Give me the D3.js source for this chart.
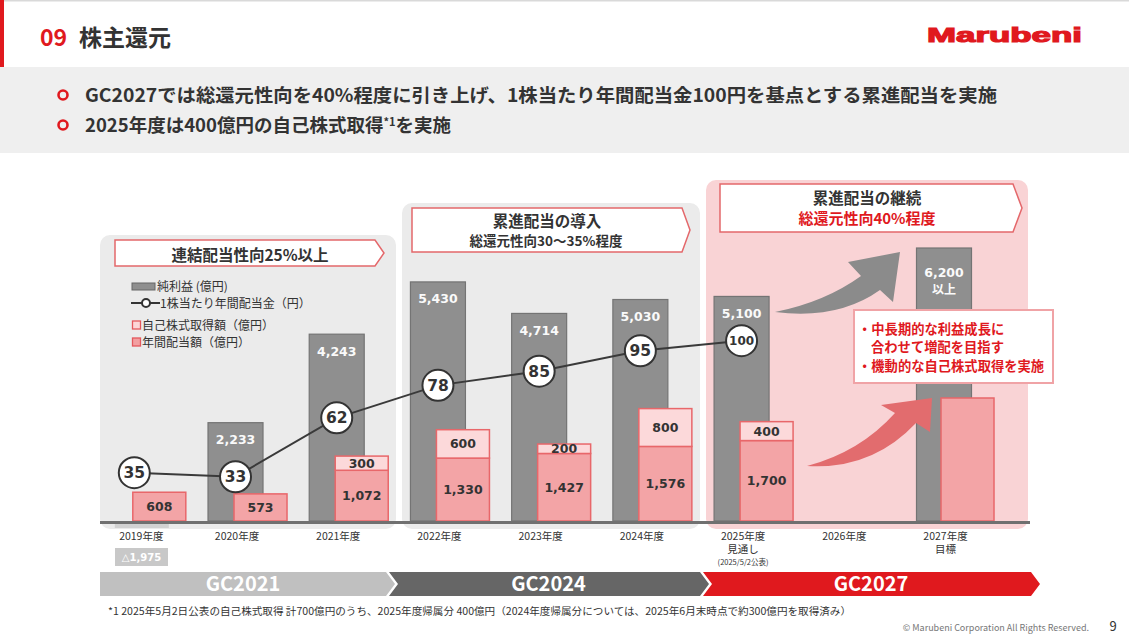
<!DOCTYPE html>
<html><head><meta charset="utf-8">
<script src="https://cdn.jsdelivr.net/npm/d3@7"></script>
<style>body{margin:0;background:#fff}svg{display:block}</style>
</head><body><svg id="c" width="1129" height="638"></svg>
<script>
const categories = ['2019年度','2020年度','2021年度','2022年度','2023年度','2024年度','2025年度','2026年度','2027年度'];
const subLabels = ['','','','','','','見通し','','目標'];
const subNotes = ['','','','','','','(2025/5/2公表)','',''];
const netIncome = [null,2233,4243,5430,4714,5030,5100,null,6200];
const netIncomeSuffix = ['','','','','','','','','以上'];
const netIncome2019Label = '△1,975';
const annualDividend = [608,573,1072,1330,1427,1576,1700,null,null];
const shareBuyback = [null,null,300,600,200,800,400,null,null];
const totalReturnTarget = [null,null,null,null,null,null,null,null,2600];
const dps = [35,33,62,78,85,95,100,null,null];
const phases = ['GC2021','GC2024','GC2027'];
const legendLabels = ['純利益 (億円)','1株当たり年間配当金（円）','自己株式取得額（億円）','年間配当額（億円）'];
const bullets = ['GC2027では総還元性向を40%程度に引き上げ、1株当たり年間配当金100円を基点とする累進配当を実施','2025年度は400億円の自己株式取得'];
const footnote = '*1 2025年5月2日公表の自己株式取得 計700億円のうち、2025年度帰属分 400億円（2024年度帰属分については、2025年6月末時点で約300億円を取得済み）';

const JP = "'Noto Sans CJK JP','Noto Sans',sans-serif";
const NUM = "'DejaVu Sans',Verdana,sans-serif";
const RED = '#e0191e', DARK = '#333333';
const svg = d3.select('#c');
const fmt = d3.format(',');

const base = 521;
const x = d3.scalePoint().domain(categories).range([134.3, 944]);
const yNI = d3.scaleLinear().domain([0, 6200]).range([base, 248]);
const yPay = d3.scaleLinear().domain([0, 2600]).range([base, 398]);
const yDps = d3.scaleLinear().domain([0, 100]).range([543.7, 340.7]);

// ---------- header ----------
svg.append('rect').attr('x',0).attr('y',0).attr('width',1129).attr('height',1.5).attr('fill','#d9d9d9');
svg.append('rect').attr('x',0).attr('y',0).attr('width',4).attr('height',67).attr('fill',RED);
svg.append('text').attr('x',40).attr('y',46).attr('font-family',JP).attr('font-weight',700).attr('font-size',23).attr('fill',RED).text('09');
svg.append('text').attr('x',79).attr('y',46).attr('font-family',JP).attr('font-weight',700).attr('font-size',23).attr('fill',DARK).text('株主還元');
svg.append('text').attr('x',927).attr('y',42).attr('font-family',"'Liberation Sans',Arial,sans-serif").attr('font-weight',900)
  .attr('font-size',21).attr('fill',RED).attr('textLength',155).attr('lengthAdjust','spacingAndGlyphs')
  .attr('stroke',RED).attr('stroke-width',1.2).text('Marubeni');

svg.append('rect').attr('x',0).attr('y',67).attr('width',1129).attr('height',86).attr('fill','#efefef');
[95,125].forEach((cy,i)=>{
  svg.append('circle').attr('cx',63).attr('cy',cy).attr('r',4.5).attr('fill','none').attr('stroke',RED).attr('stroke-width',2.6);
});
svg.append('text').attr('x',85).attr('y',101.5).attr('font-family',JP).attr('font-weight',700).attr('font-size',18.5)
  .attr('fill',DARK).attr('textLength',912).attr('lengthAdjust','spacingAndGlyphs').text(bullets[0]);
const b2 = svg.append('text').attr('x',85).attr('y',131.5).attr('font-family',JP).attr('font-weight',700).attr('font-size',18.5).attr('fill',DARK);
b2.append('tspan').text(bullets[1]);
b2.append('tspan').attr('font-size',11).attr('dy',-6).text('*1');
b2.append('tspan').attr('dy',6).text('を実施');

// ---------- phase panels ----------
svg.append('rect').attr('x',100).attr('y',235).attr('width',296).attr('height',base-235+8).attr('rx',10).attr('fill','#ebebeb');
svg.append('rect').attr('x',402).attr('y',203).attr('width',298).attr('height',base-203+8).attr('rx',10).attr('fill','#ebebeb');
svg.append('rect').attr('x',706).attr('y',180).attr('width',322).attr('height',base-180+8).attr('rx',10).attr('fill','#f9d3d5');

function arrowBox(x0,y0,x1,y1,tip){
  const ym=(y0+y1)/2;
  svg.append('path').attr('d',`M${x0},${y0}H${x1}L${tip},${ym}L${x1},${y1}H${x0}Z`)
    .attr('fill','#fff').attr('stroke','#e4686b').attr('stroke-width',1.5);
}
arrowBox(115,240,375,266,384);
arrowBox(412,208,682,252,690);
arrowBox(720,184,1013,232,1022);
svg.append('text').attr('x',250).attr('y',260.5).attr('text-anchor','middle').attr('font-family',JP).attr('font-weight',700).attr('font-size',15.5).attr('fill',DARK).text('連結配当性向25%以上');
svg.append('text').attr('x',547).attr('y',226.5).attr('text-anchor','middle').attr('font-family',JP).attr('font-weight',700).attr('font-size',15.5).attr('fill',DARK).text('累進配当の導入');
svg.append('text').attr('x',546).attr('y',246).attr('text-anchor','middle').attr('font-family',JP).attr('font-weight',700).attr('font-size',13.5).attr('fill',DARK).text('総還元性向30～35%程度');
svg.append('text').attr('x',867).attr('y',203.5).attr('text-anchor','middle').attr('font-family',JP).attr('font-weight',700).attr('font-size',15.5).attr('fill',DARK).text('累進配当の継続');
svg.append('text').attr('x',867).attr('y',223.5).attr('text-anchor','middle').attr('font-family',JP).attr('font-weight',700).attr('font-size',15).attr('fill',RED).text('総還元性向40%程度');

// ---------- legend ----------
const lg = svg.append('g').attr('font-family',JP).attr('font-size',12).attr('fill',DARK);
lg.append('rect').attr('x',132).attr('y',283).attr('width',23).attr('height',7).attr('fill','#8f8f8f').attr('stroke','#666').attr('stroke-width',1);
lg.append('text').attr('x',157).attr('y',291).text(legendLabels[0]);
lg.append('line').attr('x1',131).attr('x2',160).attr('y1',303).attr('y2',303).attr('stroke',DARK).attr('stroke-width',2);
lg.append('circle').attr('cx',146).attr('cy',303).attr('r',4).attr('fill','#fff').attr('stroke',DARK).attr('stroke-width',2);
lg.append('text').attr('x',160).attr('y',307.5).text(legendLabels[1]);
lg.append('rect').attr('x',132.5).attr('y',321).attr('width',8).attr('height',8).attr('fill','#fcd6d7').attr('stroke','#e4585c').attr('stroke-width',1.3);
lg.append('text').attr('x',142).attr('y',329.5).text(legendLabels[2]);
lg.append('rect').attr('x',132.5).attr('y',338).attr('width',8).attr('height',8).attr('fill','#f29fa1').attr('stroke','#e4585c').attr('stroke-width',1.3);
lg.append('text').attr('x',142).attr('y',346.5).text(legendLabels[3]);

// ---------- net income bars ----------
const niData = categories.map((c,i)=>({c, v:netIncome[i], s:netIncomeSuffix[i]})).filter(d=>d.v!=null);
svg.append('g').selectAll('rect').data(niData).join('rect')
  .attr('x',d=>x(d.c)-27.5).attr('y',d=>yNI(d.v)).attr('width',55).attr('height',d=>base-yNI(d.v))
  .attr('fill','#8f8f8f').attr('stroke','#747474').attr('stroke-width',1.2);
svg.append('g').selectAll('text').data(niData).join('text')
  .attr('x',d=>x(d.c)).attr('y',d=>yNI(d.v)+(d.s?29:21.5)).attr('text-anchor','middle')
  .attr('font-family',NUM).attr('font-weight',700).attr('font-size',12.5).attr('fill','#fafafa').text(d=>fmt(d.v));
svg.append('g').selectAll('text').data(niData.filter(d=>d.s)).join('text')
  .attr('x',d=>x(d.c)).attr('y',d=>yNI(d.v)+45.5).attr('text-anchor','middle')
  .attr('font-family',JP).attr('font-weight',700).attr('font-size',12).attr('fill','#fafafa').text(d=>d.s);

// 2019 negative net income marker
svg.append('rect').attr('x',x(categories[0])-19.5).attr('y',base+3).attr('width',54).attr('height',4).attr('fill','#d2d2d2');

// ---------- payout bars ----------
const PSTROKE = '#e8676a';
const payData = categories.map((c,i)=>({c, d:annualDividend[i], b:shareBuyback[i], t:totalReturnTarget[i]}));
const pg = svg.append('g');
pg.selectAll('rect.div').data(payData.filter(d=>d.d!=null)).join('rect').attr('class','div')
  .attr('x',d=>x(d.c)-1.5).attr('y',d=>yPay(d.d)).attr('width',53).attr('height',d=>base-yPay(d.d))
  .attr('fill','#f3a4a6').attr('stroke',PSTROKE).attr('stroke-width',1.5);
pg.selectAll('rect.bb').data(payData.filter(d=>d.b!=null)).join('rect').attr('class','bb')
  .attr('x',d=>x(d.c)-1.5).attr('y',d=>yPay(d.d+d.b)).attr('width',53).attr('height',d=>yPay(d.d)-yPay(d.d+d.b))
  .attr('fill','#fcd9da').attr('stroke',PSTROKE).attr('stroke-width',1.5);
pg.selectAll('rect.tg').data(payData.filter(d=>d.t!=null)).join('rect').attr('class','tg')
  .attr('x',d=>x(d.c)-3).attr('y',d=>yPay(d.t)).attr('width',53).attr('height',d=>base-yPay(d.t))
  .attr('fill','#f3a4a6').attr('stroke',PSTROKE).attr('stroke-width',1.5);
pg.selectAll('text.dl').data(payData.filter(d=>d.d!=null)).join('text').attr('class','dl')
  .attr('x',d=>x(d.c)+25).attr('y',d=>(yPay(d.d)+base)/2+4.5).attr('text-anchor','middle')
  .attr('font-family',NUM).attr('font-weight',700).attr('font-size',12.5).attr('fill',DARK).text(d=>fmt(d.d));
pg.selectAll('text.bl').data(payData.filter(d=>d.b!=null)).join('text').attr('class','bl')
  .attr('x',d=>x(d.c)+25).attr('y',d=>(yPay(d.d)+yPay(d.d+d.b))/2+4.5).attr('text-anchor','middle')
  .attr('font-family',NUM).attr('font-weight',700).attr('font-size',12.5).attr('fill',DARK).text(d=>fmt(d.b));

// ---------- arrows ----------
svg.append('path').attr('d','M775,312 Q825,302 861,276 L848,262 L900,252 L893,302 L880,290 Q838,320 775,312 Z').attr('fill','#8b8b8b');
svg.append('path').attr('d','M807,466 Q860,452 895,413 L881,405 L932,398 L930,432 L916,423 Q872,470 807,466 Z').attr('fill','#e26c6e');

// ---------- callout ----------
svg.append('rect').attr('x',854).attr('y',310).attr('width',199).attr('height',73).attr('fill','#fff').attr('stroke','#f0a3a6').attr('stroke-width',2);
const co = svg.append('g').attr('font-family',JP).attr('font-weight',700).attr('font-size',13.3).attr('fill',RED);
co.append('text').attr('x',858).attr('y',334).text('・中長期的な利益成長に');
co.append('text').attr('x',871).attr('y',352).text('合わせて増配を目指す');
co.append('text').attr('x',858).attr('y',371).text('・機動的な自己株式取得を実施');

// ---------- dividend per share line ----------
const dpsData = categories.map((c,i)=>({c, v:dps[i]})).filter(d=>d.v!=null);
svg.append('path').datum(dpsData)
  .attr('d', d3.line().x(d=>x(d.c)).y(d=>yDps(d.v)))
  .attr('fill','none').attr('stroke','#3a3a3a').attr('stroke-width',2);
svg.append('g').selectAll('circle').data(dpsData).join('circle')
  .attr('cx',d=>x(d.c)).attr('cy',d=>yDps(d.v)).attr('r',15.5)
  .attr('fill','#fff').attr('stroke','#333').attr('stroke-width',2);
svg.append('g').selectAll('text').data(dpsData).join('text')
  .attr('x',d=>x(d.c)).attr('y',d=>yDps(d.v)+(d.v>=100?4.5:5.5)).attr('text-anchor','middle')
  .attr('font-family',NUM).attr('font-weight',700).attr('font-size',d=>d.v>=100?12:15.5).attr('fill','#333').text(d=>d.v);

// ---------- axis ----------
svg.append('line').attr('x1',100).attr('x2',1030).attr('y1',base+1.5).attr('y2',base+1.5).attr('stroke','#707070').attr('stroke-width',3);
const xa = svg.append('g').attr('font-family',JP).attr('font-size',10.5).attr('fill',DARK).attr('text-anchor','middle');
categories.forEach((c,i)=>{
  const cx = x(c) + (i===0?7:1.5);
  xa.append('text').attr('x',cx).attr('y',540).text(c);
  if(subLabels[i]) xa.append('text').attr('x',cx).attr('y',553).text(subLabels[i]);
  if(subNotes[i]) xa.append('text').attr('x',cx).attr('y',564.5).attr('font-size',7.5).text(subNotes[i]);
});
svg.append('rect').attr('x',115).attr('y',548).attr('width',53).attr('height',18).attr('fill','#c8c8c8');
svg.append('text').attr('x',141.5).attr('y',561).attr('text-anchor','middle').attr('font-family',NUM).attr('font-size',10).attr('font-weight',700).attr('fill','#fff').text(netIncome2019Label);

// ---------- GC phase ribbon ----------
const segs = [
  {x0:100,x1:386,notch:false,fill:'#c0c0c0'},
  {x0:389,x1:700,notch:true,fill:'#666666'},
  {x0:703,x1:1031,notch:true,fill:RED}
];
const gy0=572, gy1=596, gym=(gy0+gy1)/2, tipW=9;
segs.forEach((s,i)=>{
  const d = s.notch ? `M${s.x0},${gy0}H${s.x1}L${s.x1+tipW},${gym}L${s.x1},${gy1}H${s.x0}L${s.x0+tipW},${gym}Z`
                    : `M${s.x0},${gy0}H${s.x1}L${s.x1+tipW},${gym}L${s.x1},${gy1}H${s.x0}Z`;
  svg.append('path').attr('d',d).attr('fill',s.fill);
  svg.append('text').attr('x',(s.x0+s.x1)/2+(i===0?0:4)).attr('y',gym+7).attr('text-anchor','middle')
    .attr('font-family',JP).attr('font-weight',700).attr('font-size',20).attr('fill','#fff').text(phases[i]);
});

// ---------- footer ----------
svg.append('text').attr('x',108).attr('y',615).attr('font-family',JP).attr('font-size',10).attr('fill',DARK)
  .attr('textLength',743).attr('lengthAdjust','spacingAndGlyphs').text(footnote);
svg.append('text').attr('x',1089).attr('y',631).attr('text-anchor','end').attr('font-family',JP).attr('font-size',9).attr('fill','#777').text('© Marubeni Corporation All Rights Reserved.');
svg.append('text').attr('x',1113).attr('y',631).attr('text-anchor','middle').attr('font-family',JP).attr('font-size',13).attr('fill',DARK).text('9');
</script></body></html>
